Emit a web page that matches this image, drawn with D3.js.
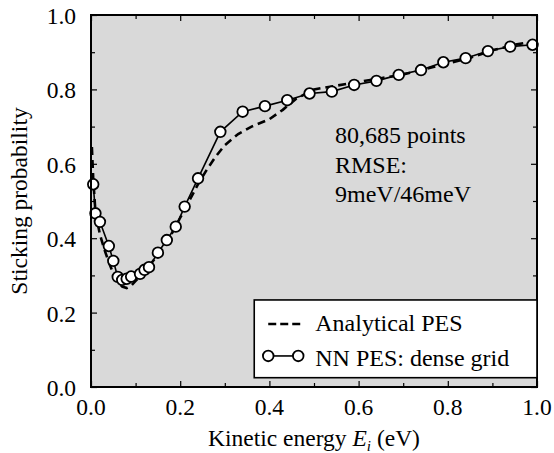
<!DOCTYPE html>
<html>
<head>
<meta charset="utf-8">
<script src="https://cdn.jsdelivr.net/npm/d3@7"></script>
<style>
  body { margin: 0; background: #fff; }
  text { font-family: "Liberation Serif", "Times New Roman", serif; fill: #000; }
</style>
</head>
<body>
<div id="plot"></div>
<script>
// analytical PES curve (dashed)
const anaE = [0.002, 0.005, 0.01, 0.02, 0.03, 0.04, 0.05, 0.06, 0.07, 0.08, 0.09, 0.10, 0.12, 0.14, 0.16, 0.18, 0.20, 0.22, 0.24, 0.26, 0.28, 0.30, 0.33, 0.36, 0.40, 0.43, 0.46, 0.50, 0.55, 0.60, 0.65, 0.70, 0.75, 0.80, 0.85, 0.90, 0.95, 1.00];
const anaP = [0.645, 0.56, 0.47, 0.41, 0.37, 0.335, 0.305, 0.283, 0.27, 0.266, 0.272, 0.285, 0.31, 0.34, 0.37, 0.41, 0.455, 0.50, 0.545, 0.585, 0.62, 0.65, 0.68, 0.70, 0.72, 0.745, 0.775, 0.80, 0.81, 0.82, 0.83, 0.84, 0.855, 0.87, 0.885, 0.905, 0.92, 0.93];

// NN PES, dense grid (open circles)
const nnE = [0.005, 0.01, 0.02, 0.04, 0.05, 0.06, 0.07, 0.08, 0.09, 0.11, 0.12, 0.13, 0.15, 0.17, 0.19, 0.21, 0.24, 0.29, 0.34, 0.39, 0.44, 0.49, 0.54, 0.59, 0.64, 0.69, 0.74, 0.79, 0.84, 0.89, 0.94, 0.99];
const nnP = [0.545, 0.467, 0.444, 0.379, 0.339, 0.296, 0.288, 0.291, 0.297, 0.304, 0.315, 0.322, 0.361, 0.395, 0.431, 0.485, 0.561, 0.686, 0.740, 0.755, 0.771, 0.789, 0.794, 0.812, 0.823, 0.839, 0.852, 0.873, 0.884, 0.903, 0.915, 0.920];

const xTicks = [0, 0.2, 0.4, 0.6, 0.8, 1.0];
const yTicks = [0, 0.2, 0.4, 0.6, 0.8, 1.0];
const minorTicks = [0.1, 0.3, 0.5, 0.7, 0.9];

const legendLabels = ["Analytical PES", "NN PES: dense grid"];
const noteLines = ["80,685 points", "RMSE:", "9meV/46meV"];

const W = 554, H = 453;
const margin = { top: 15, right: 17, bottom: 66, left: 91 };
const w = W - margin.left - margin.right;
const h = H - margin.top - margin.bottom;
const fs = 23.5;

const svg = d3.select("#plot").append("svg")
  .attr("width", W)
  .attr("height", H);

const g = svg.append("g")
  .attr("transform", `translate(${margin.left},${margin.top})`);

const x = d3.scaleLinear().domain([0, 1]).range([0, w]);
const y = d3.scaleLinear().domain([0, 1]).range([h, 0]);

g.append("rect")
  .attr("width", w).attr("height", h)
  .attr("fill", "#d9d9d9");

// inward ticks on all four sides
function tickSet(axis, scale, major) {
  return axis(scale).tickValues(major).tickSize(-6).tickFormat("");
}
const minorLen = -4;
g.append("g").attr("transform", `translate(0,${h})`)
  .call(tickSet(d3.axisBottom, x, xTicks));
g.append("g").attr("transform", `translate(0,${h})`)
  .call(d3.axisBottom(x).tickValues(minorTicks).tickSize(minorLen).tickFormat(""));
g.append("g")
  .call(tickSet(d3.axisTop, x, xTicks)).call(a => a.selectAll("line").attr("y2", 6));
g.append("g")
  .call(d3.axisTop(x).tickValues(minorTicks).tickSize(0).tickFormat("")).call(a => a.selectAll("line").attr("y2", 4));
g.append("g")
  .call(tickSet(d3.axisLeft, y, yTicks));
g.append("g")
  .call(d3.axisLeft(y).tickValues(minorTicks).tickSize(minorLen).tickFormat(""));
g.append("g").attr("transform", `translate(${w},0)`)
  .call(d3.axisRight(y).tickValues(yTicks).tickSize(0).tickFormat("")).call(a => a.selectAll("line").attr("x2", -6));
g.append("g").attr("transform", `translate(${w},0)`)
  .call(d3.axisRight(y).tickValues(minorTicks).tickSize(0).tickFormat("")).call(a => a.selectAll("line").attr("x2", -4));
g.selectAll(".domain").remove();
g.selectAll(".tick line").attr("stroke", "#000").attr("stroke-width", 1.2);

// tick labels
g.selectAll(".xlab").data(xTicks).enter().append("text")
  .attr("x", d => x(d)).attr("y", h + 28)
  .attr("text-anchor", "middle").attr("font-size", fs)
  .text(d => d.toFixed(1));
g.selectAll(".ylab").data(yTicks).enter().append("text")
  .attr("x", -15).attr("y", d => y(d) + 9)
  .attr("text-anchor", "end").attr("font-size", fs)
  .text(d => d.toFixed(1));

// axis titles
const xt = svg.append("text")
  .attr("x", margin.left + w / 2).attr("y", 446)
  .attr("text-anchor", "middle").attr("font-size", fs);
xt.append("tspan").text("Kinetic energy ");
xt.append("tspan").attr("font-style", "italic").text("E");
xt.append("tspan").attr("font-style", "italic").attr("font-size", 15).attr("dy", 5).text("i");
xt.append("tspan").attr("dy", -5).text(" (eV)");

svg.append("text")
  .attr("transform", `translate(27,${margin.top + h / 2}) rotate(-90)`)
  .attr("text-anchor", "middle").attr("font-size", fs)
  .text("Sticking probability");

// data
const anaData = anaE.map((e, i) => [e, anaP[i]]);
const nnData = nnE.map((e, i) => [e, nnP[i]]);
const line = d3.line().x(d => x(d[0])).y(d => y(d[1]));

g.append("path").datum(anaData)
  .attr("d", line).attr("fill", "none")
  .attr("stroke", "#000").attr("stroke-width", 2.6)
  .attr("stroke-dasharray", "8,5");

g.append("path").datum(nnData)
  .attr("d", line).attr("fill", "none")
  .attr("stroke", "#000").attr("stroke-width", 1.6);

g.selectAll(".nn").data(nnData).enter().append("circle")
  .attr("cx", d => x(d[0])).attr("cy", d => y(d[1]))
  .attr("r", 5.3).attr("fill", "#fff")
  .attr("stroke", "#000").attr("stroke-width", 1.8);

// annotation
g.selectAll(".note").data(noteLines).enter().append("text")
  .attr("x", 244).attr("y", (d, i) => 128 + i * 29.5)
  .attr("font-size", 24)
  .text(d => d);

// frame
g.append("rect")
  .attr("width", w).attr("height", h)
  .attr("fill", "none").attr("stroke", "#000").attr("stroke-width", 2);

// legend
const lg = g.append("g").attr("transform", `translate(${x(0.366)},${y(0.234)})`);
lg.append("rect")
  .attr("width", w - x(0.366)).attr("height", y(0.025) - y(0.234))
  .attr("fill", "#fff").attr("stroke", "#000").attr("stroke-width", 1.6);
lg.append("line")
  .attr("x1", 14).attr("x2", 46).attr("y1", 24).attr("y2", 24)
  .attr("stroke", "#000").attr("stroke-width", 2.6).attr("stroke-dasharray", "8,4");
lg.append("line")
  .attr("x1", 14).attr("x2", 44).attr("y1", 56).attr("y2", 56)
  .attr("stroke", "#000").attr("stroke-width", 1.6);
lg.selectAll(".lc").data([14, 44]).enter().append("circle")
  .attr("cx", d => d).attr("cy", 56).attr("r", 5.3)
  .attr("fill", "#fff").attr("stroke", "#000").attr("stroke-width", 1.8);
lg.selectAll(".lt").data(legendLabels).enter().append("text")
  .attr("x", 61).attr("y", (d, i) => 31 + i * 35)
  .attr("font-size", 24)
  .text(d => d);
</script>
</body>
</html>
